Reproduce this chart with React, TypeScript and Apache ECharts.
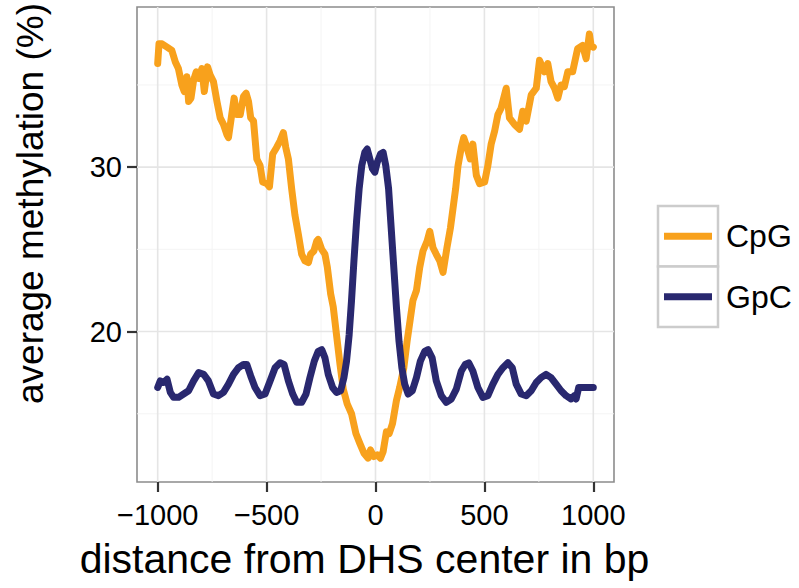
import React, { useEffect, useRef } from "react";
import * as echarts from "echarts";

// ---- data ----
const cpgX = [
  -1000, -994, -980, -957, -935, -919, -905, -889, -878, -866, -858, -847, -835, -823, -812, -797, -786, -771, -759, -744,
  -728, -713, -698, -683, -675, -660, -649, -637, -621, -606, -594, -583, -573, -560, -545, -530, -518, -499, -487, -472,
  -454, -438, -423, -412, -400, -385, -370, -354, -339, -324, -308, -298, -283, -270, -263, -247, -232, -221, -206, -194,
  -179, -163, -148, -130, -110, -90, -72, -53, -34, -23, -8, 8, 23, 35, 50, 63, 78, 96, 111, 130,
  145, 160, 172, 188, 203, 218, 237, 249, 264, 279, 295, 310, 328, 344, 356, 368, 379, 394, 405, 420,
  435, 447, 463, 478, 501, 516, 531, 547, 562, 577, 600, 615, 638, 661, 676, 692, 715, 738, 753, 776,
  791, 806, 822, 837, 852, 867, 883, 905, 928, 951, 967, 982, 990, 1000,
];
const cpgY = [
  36.3, 37.5, 37.5, 37.3, 37.1, 36.4, 36.0, 35.0, 34.6, 35.5, 34.0, 34.2, 35.3, 35.8, 35.4, 36.0, 34.6, 36.1, 35.6, 35.2,
  34.0, 33.0, 32.6, 32.0, 31.8, 33.2, 34.2, 33.2, 33.2, 34.3, 34.5, 34.0, 33.0, 32.8, 30.5, 30.1, 29.1, 29.0, 28.8, 30.8,
  31.2, 31.6, 32.1, 31.2, 30.5, 28.7, 27.1, 25.9, 24.7, 24.3, 24.2, 24.7, 24.9, 25.5, 25.6, 25.0, 24.7, 23.9, 22.3, 21.5,
  19.8, 18.0, 16.5, 15.6, 15.0, 13.8, 13.2, 12.6, 12.3, 12.8, 12.4, 12.5, 12.3, 12.7, 13.9, 13.8, 14.4, 15.8, 16.6, 17.8,
  19.4, 20.8, 21.9, 22.5, 23.9, 24.9, 25.5, 26.1, 25.1, 24.7, 24.3, 23.6, 25.1, 26.3, 27.5, 28.7, 30.1, 31.2, 31.8, 31.2,
  30.5, 31.4, 29.5, 29.0, 29.1, 30.1, 31.4, 32.2, 33.2, 33.6, 34.8, 33.0, 32.6, 32.3, 33.4, 32.8, 34.4, 34.8, 36.5, 35.8,
  36.3, 35.2, 34.8, 34.2, 35.0, 34.9, 35.8, 35.8, 37.2, 37.4, 36.6, 38.1, 37.4, 37.3,
];
const gpcX = [
  -1000, -988, -973, -957, -942, -927, -904, -881, -858, -835, -812, -789, -767, -744, -721, -698, -675, -652, -629, -606,
  -591, -573, -553, -530, -507, -484, -461, -438, -420, -400, -380, -362, -339, -319, -301, -281, -263, -247, -232, -217,
  -197, -179, -160, -145, -133, -121, -110, -99, -87, -75, -63, -49, -38, -26, -14, -3, 8, 23, 35, 47,
  60, 72, 84, 96, 108, 121, 134, 150, 169, 188, 206, 226, 241, 260, 279, 302, 325, 348, 371, 394,
  412, 428, 447, 470, 493, 516, 539, 562, 585, 608, 628, 646, 669, 692, 715, 738, 760, 783, 806, 829,
  852, 875, 898, 913, 921, 933, 951, 974, 1000,
];
const gpcY = [
  16.6, 17.0, 16.9, 17.1, 16.3, 16.0, 16.0, 16.2, 16.4, 17.0, 17.5, 17.4, 17.0, 16.2, 16.1, 16.3, 16.8, 17.4, 17.8, 18.0,
  18.0, 17.3, 16.6, 16.1, 16.2, 17.0, 17.8, 18.1, 18.0, 17.0, 16.2, 15.7, 15.7, 16.2, 17.2, 18.2, 18.8, 18.9, 18.4, 17.4,
  16.6, 16.3, 16.4, 17.2, 18.2, 19.8, 21.9, 24.3, 26.7, 28.7, 30.1, 30.9, 31.1, 30.5, 29.9, 29.7, 30.3, 30.8, 30.9, 30.1,
  28.7, 26.3, 23.9, 21.5, 19.4, 17.8, 16.8, 16.2, 16.4, 17.2, 18.2, 18.8, 18.9, 18.4, 17.0, 16.1, 15.7, 15.9, 16.5, 17.6,
  18.0, 18.1, 17.6, 16.6, 16.0, 16.1, 16.8, 17.4, 17.8, 18.1, 17.8, 16.8, 16.2, 16.1, 16.4, 16.9, 17.2, 17.4, 17.2, 16.8,
  16.4, 16.1, 15.9, 16.1, 15.9, 16.6, 16.6, 16.6, 16.6,
];

const xTicks = [-1000, -500, 0, 500, 1000];
const xMinor = [-750, -250, 250, 750];
const yTicks = [20, 30];
const yMinor = [15, 25, 35];
const seriesNames = ["CpG", "GpC"];
const xTitle = "distance from DHS center in bp";
const yTitle = "average methylation (%)";

const X_MIN = -1095;
const X_MAX = 1095;
const Y_MIN = 10.85;
const Y_MAX = 39.74;

const ORANGE = "#F8A11C";
const NAVY = "#29286F";
const FONT = "Liberation Sans, Arial, Helvetica, sans-serif";

const zip = (xs: number[], ys: number[]) => xs.map((x, i) => [x, ys[i]]);
const fmt = (v: number) => (v < 0 ? "\u2212" + Math.abs(v) : String(v));

export default function App() {
  const ref = useRef<HTMLDivElement>(null);

  useEffect(() => {
    if (!ref.current) return;
    const chart = echarts.init(ref.current, undefined, { renderer: "svg" });

    const major = { color: "#E5E5E5", width: 1.6 };
    const minor = { color: "#F3F3F3", width: 0.9 };
    const gridSeries = (pts: number[][], style: any) => ({
      type: "line",
      data: pts,
      showSymbol: false,
      symbol: "none",
      silent: true,
      z: 1,
      lineStyle: style,
      tooltip: { show: false },
    });
    const gridLines = [
      ...xMinor.map((v) => gridSeries([[v, Y_MIN], [v, Y_MAX]], minor)),
      ...yMinor.map((v) => gridSeries([[X_MIN, v], [X_MAX, v]], minor)),
      ...xTicks.map((v) => gridSeries([[v, Y_MIN], [v, Y_MAX]], major)),
      ...yTicks.map((v) => gridSeries([[X_MIN, v], [X_MAX, v]], major)),
    ];

    const legendTop = 206;
    const keyH = 60.5;
    const legendLeft = 658;
    const keyW = 60;
    const colors = [ORANGE, NAVY];
    const legendGraphics: any[] = [];
    seriesNames.forEach((name, i) => {
      const y0 = legendTop + i * keyH;
      legendGraphics.push({
        type: "rect",
        z: 100,
        shape: { x: legendLeft, y: y0, width: keyW, height: keyH },
        style: { fill: "#ffffff", stroke: "#CCCCCC", lineWidth: 2.5 },
      });
      legendGraphics.push({
        type: "line",
        z: 101,
        shape: { x1: legendLeft + 6, y1: y0 + keyH / 2, x2: legendLeft + 54, y2: y0 + keyH / 2 },
        style: { stroke: colors[i], lineWidth: 7 },
      });
      legendGraphics.push({
        type: "text",
        z: 101,
        x: legendLeft + keyW + 8,
        y: y0 + keyH / 2,
        style: {
          text: name,
          fontSize: 32,
          fontFamily: FONT,
          fill: "#000",
          verticalAlign: "middle",
          align: "left",
        },
      });
    });

    chart.setOption({
      animation: false,
      backgroundColor: "#ffffff",
      textStyle: { fontFamily: FONT },
      grid: {
        left: 137,
        right: 185,
        top: 5,
        bottom: 106,
        show: true,
        backgroundColor: "transparent",
        borderColor: "#8C8C8C",
        borderWidth: 1.6,
      },
      xAxis: {
        type: "value",
        min: X_MIN,
        max: X_MAX,
        axisLine: { show: false, onZero: false },
        splitLine: { show: false },
        axisTick: { show: true, customValues: xTicks, length: 10, lineStyle: { color: "#333", width: 2.2 } },
        axisLabel: {
          customValues: xTicks,
          margin: 18,
          fontSize: 29,
          color: "#000",
          fontFamily: FONT,
          formatter: (v: number) => fmt(v),
        },
        name: xTitle,
        nameLocation: "middle",
        nameGap: 56,
        nameTextStyle: { fontSize: 41, color: "#000", fontFamily: FONT, padding: [0, 22, 0, 0] },
      },
      yAxis: {
        type: "value",
        min: Y_MIN,
        max: Y_MAX,
        axisLine: { show: false, onZero: false },
        splitLine: { show: false },
        axisTick: { show: true, customValues: yTicks, length: 10, lineStyle: { color: "#333", width: 2.2 } },
        axisLabel: {
          customValues: yTicks,
          margin: 15,
          fontSize: 29,
          color: "#000",
          fontFamily: FONT,
          formatter: (v: number) => fmt(v),
        },
        name: yTitle,
        nameLocation: "middle",
        nameRotate: 90,
        nameGap: 88,
        nameTextStyle: { fontSize: 37, color: "#000", fontFamily: FONT, padding: [0, 0, 0, 82] },
      },
      graphic: legendGraphics,
      series: [
        ...gridLines,
        {
          type: "line",
          name: seriesNames[0],
          data: zip(cpgX, cpgY),
          showSymbol: false,
          z: 3,
          lineStyle: { color: ORANGE, width: 7, join: "round", cap: "round" },
          itemStyle: { color: ORANGE },
        },
        {
          type: "line",
          name: seriesNames[1],
          data: zip(gpcX, gpcY),
          showSymbol: false,
          z: 4,
          lineStyle: { color: NAVY, width: 7, join: "round", cap: "round" },
          itemStyle: { color: NAVY },
        },
      ],
    });

    return () => chart.dispose();
  }, []);

  return (
    <div
      ref={ref}
      style={{ position: "absolute", left: 0, top: 0, width: 799, height: 588, background: "#fff" }}
    />
  );
}
